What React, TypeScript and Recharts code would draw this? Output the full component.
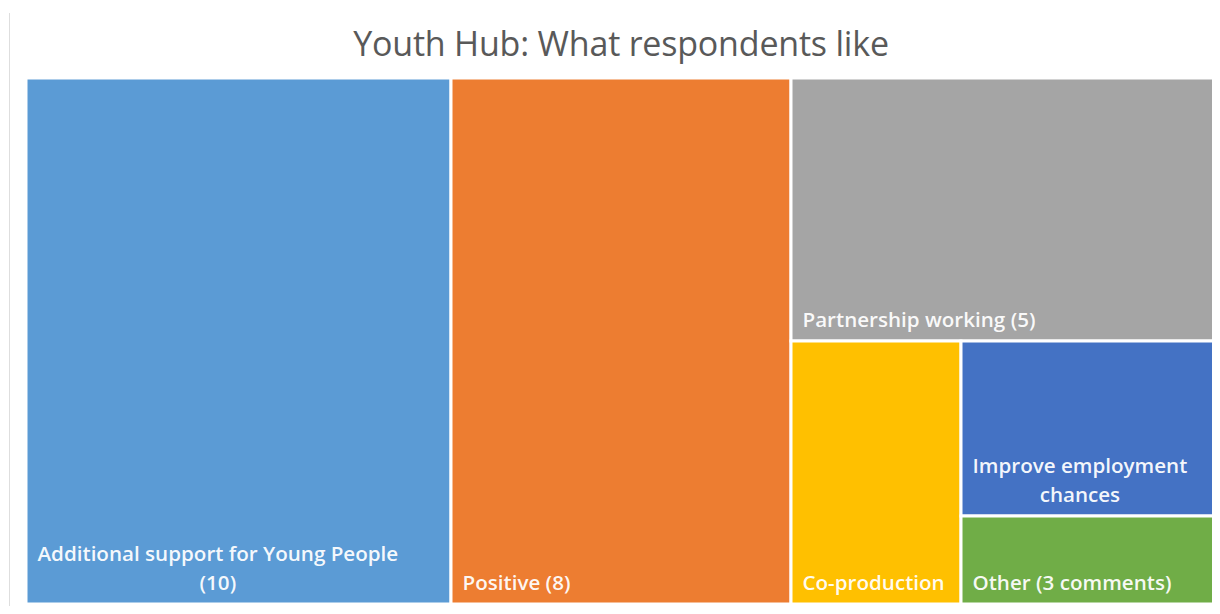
import { Treemap } from "recharts";

const names = [
  "Additional support for Young People",
  "Positive",
  "Partnership working",
  "Co-production",
  "Improve employment chances",
  "Other",
];
const values = [10, 8, 5, 2, 2, 1];
const labelLines = [
  ["Additional support for Young People", "(10)"],
  ["Positive (8)"],
  ["Partnership working (5)"],
  ["Co-production"],
  ["Improve employment", "chances"],
  ["Other (3 comments)"],
];
const colors = ["#5B9BD5", "#ED7D31", "#A5A5A5", "#FFC000", "#4472C4", "#70AD47"];

const data = names.map((name, i) => ({ name, size: values[i], idx: i }));

const LABEL_FONT = "600 20.6px 'Open Sans'";
let ctx: CanvasRenderingContext2D | null = null;
function textWidth(s: string) {
  if (!ctx) ctx = document.createElement("canvas").getContext("2d");
  if (!ctx) return s.length * 10;
  ctx.font = LABEL_FONT;
  return ctx.measureText(s).width;
}

function Cell(props: any) {
  const { x, y, width, height, depth, idx } = props;
  if (depth !== 1 || idx === undefined) return <g />;
  const lines = labelLines[idx];
  const pad = 11.5;
  const maxW = Math.max(...lines.map(textWidth));
  const cx = x + pad + maxW / 2;
  const lastY = y + height - 14;
  return (
    <g>
      <rect x={x} y={y} width={width} height={height} fill={colors[idx]} stroke="#fff" strokeWidth={3} />
      {lines.map((l, i) => (
        <text
          key={i}
          x={lines.length > 1 ? cx : x + pad}
          y={lastY - (lines.length - 1 - i) * 29}
          textAnchor={lines.length > 1 ? "middle" : "start"}
          fill="#fff"
          fillOpacity={0.95}
          stroke="none"
          style={{ font: LABEL_FONT }}
        >
          {l}
        </text>
      ))}
    </g>
  );
}

export default function App() {
  return (
    <div style={{ position: "relative", width: 1204, height: 598, fontFamily: "'Open Sans', sans-serif" }}>
      <div style={{ position: "absolute", left: 1, top: 5, width: 0, height: 601, borderLeft: "1px solid #dedede" }} />
      <div
        style={{
          position: "absolute",
          left: 18,
          width: 1190,
          top: 14,
          textAlign: "center",
          fontSize: 34,
          lineHeight: "42px",
          color: "#595959",
          letterSpacing: -0.2,
        }}
      >
        Youth Hub: What respondents like
      </div>
      <div style={{ position: "absolute", left: 18, top: 70 }}>
        <Treemap
          width={1190}
          height={526}
          data={data}
          dataKey="size"
          nameKey="name"
          aspectRatio={1}
          stroke="#fff"
          isAnimationActive={false}
          content={<Cell />}
        />
      </div>
    </div>
  );
}
